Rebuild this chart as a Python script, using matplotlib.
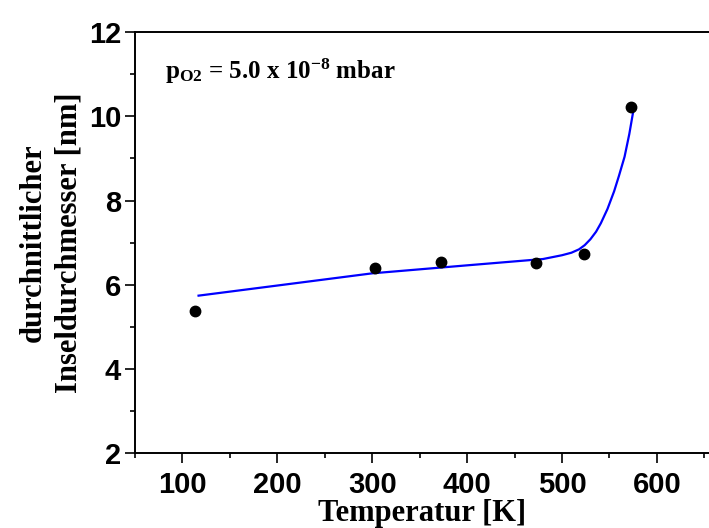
import numpy as np
import matplotlib
matplotlib.use('Agg')
import matplotlib.pyplot as plt
from matplotlib.ticker import MultipleLocator

# measured points
temp = [113, 303, 373, 473, 523, 573]
diam = [5.37, 6.39, 6.53, 6.52, 6.72, 10.23]

# fit curve
fit_t = [117, 200, 300, 400, 480, 500, 510, 518, 524, 530, 536, 541, 548, 555, 560, 566, 571, 576]
fit_d = [5.74, 5.98, 6.27, 6.46, 6.61, 6.70, 6.76, 6.84, 6.94, 7.08, 7.26, 7.46, 7.80, 8.22, 8.58, 9.04, 9.58, 10.23]

x_ticks = [100, 200, 300, 400, 500, 600]
y_ticks = [2, 4, 6, 8, 10, 12]

plt.rcParams['mathtext.fontset'] = 'custom'
plt.rcParams['mathtext.rm'] = 'Liberation Serif:bold'
plt.rcParams['mathtext.bf'] = 'Liberation Serif:bold'
plt.rcParams['mathtext.it'] = 'Liberation Serif:bold'
plt.rcParams['mathtext.default'] = 'bf'

fig = plt.figure(figsize=(7.09, 5.28), dpi=100)
ax = fig.add_axes([0.1904, 0.142, 0.8096, 0.797])

ax.plot(fit_t, fit_d, color='#0000ff', lw=1.6, zorder=2)
ax.plot(temp, diam, 'o', color='black', ms=7.5, zorder=3)

ax.set_xlim(50, 655)
ax.set_ylim(2, 12)
ax.set_xticks(x_ticks)
ax.set_yticks(y_ticks)
ax.xaxis.set_minor_locator(MultipleLocator(50))
ax.yaxis.set_minor_locator(MultipleLocator(1))

ax.spines['right'].set_visible(False)
for s in ['left', 'bottom', 'top']:
    ax.spines[s].set_linewidth(1.4)

ax.tick_params(which='major', direction='out', length=7, width=1.2,
               labelsize=21, top=False, right=False)
ax.tick_params(which='minor', direction='out', length=3.5, width=1.2,
               top=False, right=False)
ax.tick_params(axis='x', pad=6)
ax.tick_params(axis='y', pad=3)
for lab in ax.get_xticklabels() + ax.get_yticklabels():
    lab.set_fontfamily('Liberation Sans')
    lab.set_fontweight('bold')

ax.set_xlabel('Temperatur [K]', fontfamily='Liberation Serif', fontweight='bold',
              fontsize=22, labelpad=0)
ax.set_ylabel('durchnittlicher\nInseldurchmesser [nm]', fontfamily='Liberation Serif',
              fontweight='bold', fontsize=22, labelpad=4, linespacing=1.3)

ax.text(0.052, 0.888, r'$p_{O2}$ = 5.0 x 10$^{-8}$ mbar', transform=ax.transAxes,
        fontfamily='Liberation Serif', fontweight='bold', fontsize=18, va='baseline')

fig.savefig('out.png', dpi=100)
